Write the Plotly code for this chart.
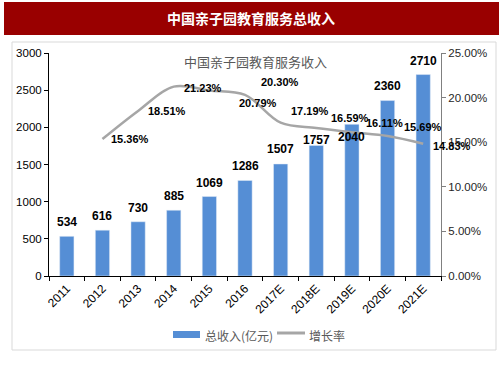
import plotly.graph_objects as go

categories = ["2011", "2012", "2013", "2014", "2015", "2016", "2017E", "2018E", "2019E", "2020E", "2021E"]
revenue = [534, 616, 730, 885, 1069, 1286, 1507, 1757, 2040, 2360, 2710]
growth_cats = categories[1:]
growth = [0.1536, 0.1851, 0.2123, 0.2079, 0.2030, 0.1719, 0.1659, 0.1611, 0.1569, 0.1483]
growth_labels = ["15.36%", "18.51%", "21.23%", "20.79%", "20.30%", "17.19%", "16.59%", "16.11%", "15.69%", "14.83%"]

# label offsets (px) - styling only
bar_label_yshift = [14, 14, 14, 14, 14, 14, 15, 5, -13, 15, 14]
growth_label_xshift = [28, 29, 29, 49, 35, 29, 34, 33, 35, 29]
growth_label_yshift = [0, 0, -1, -12, 13, 12, 10, 9, 9, -2]

BAR_COLOR = "#558ED5"
LINE_COLOR = "#A6A6A6"
FONT = "Liberation Sans, Arial, sans-serif"
CJK = "Noto Sans CJK SC, sans-serif"

W, H = 503, 378
L, R, T, B = 49, 62, 53, 102
PW, PH = W - L - R, H - T - B

def px(x):
    return (x - L) / PW

def py(y):
    return (H - B - y) / PH

idx = list(range(len(categories)))
gidx = idx[1:]

fig = go.Figure()
fig.add_trace(go.Bar(x=idx, y=revenue, marker_color=BAR_COLOR, width=0.4,
                     name="总收入(亿元)", yaxis="y"))
fig.add_trace(go.Scatter(x=gidx, y=growth, mode="lines", yaxis="y2",
                         line=dict(color=LINE_COLOR, width=2.5, shape="spline", smoothing=1.0),
                         name="增长率"))

annotations = []
for i, v, ys in zip(idx, revenue, bar_label_yshift):
    annotations.append(dict(x=i, y=v, xref="x", yref="y", text=str(v), showarrow=False,
                            xanchor="center", yanchor="middle",
                            yshift=ys, font=dict(family=FONT, size=12, color="#000000", weight="bold")))
for i, v, t, xs, ys in zip(gidx, growth, growth_labels, growth_label_xshift, growth_label_yshift):
    annotations.append(dict(x=i, y=v, xref="x", yref="y2", text=t, showarrow=False,
                            xanchor="center", yanchor="middle",
                            xshift=xs, yshift=ys, font=dict(family=FONT, size=11, color="#000000", weight="bold")))

# titles
annotations.append(dict(x=px(251), y=py(18), xref="paper", yref="paper", text="中国亲子园教育服务总收入",
                        xanchor="center", yanchor="middle",
                        showarrow=False, font=dict(family=CJK, size=14, color="#FFFFFF", weight="bold")))
annotations.append(dict(x=px(255), y=py(61), xref="paper", yref="paper", text="中国亲子园教育服务收入",
                        xanchor="center", yanchor="middle",
                        showarrow=False, font=dict(family=CJK, size=13, color="#595959")))
# legend
annotations.append(dict(x=px(203), y=py(335), xref="paper", yref="paper", text="总收入(亿元)",
                        xanchor="left", yanchor="middle",
                        showarrow=False, font=dict(family=CJK, size=12, color="#595959")))
annotations.append(dict(x=px(307), y=py(335), xref="paper", yref="paper", text="增长率",
                        xanchor="left", yanchor="middle",
                        showarrow=False, font=dict(family=CJK, size=12, color="#595959")))

shapes = [
    dict(type="rect", xref="paper", yref="paper", x0=px(12), x1=px(496), y0=py(42), y1=py(350),
         line=dict(color="#D9D9D9", width=1), fillcolor="rgba(0,0,0,0)", layer="below"),
    dict(type="rect", xref="paper", yref="paper", x0=px(4), x1=px(499), y0=py(2), y1=py(35),
         line=dict(width=0), fillcolor="#990000"),
    dict(type="rect", xref="paper", yref="paper", x0=px(173), x1=px(200), y0=py(331), y1=py(338),
         line=dict(width=0), fillcolor=BAR_COLOR),
    dict(type="line", xref="paper", yref="paper", x0=px(277), x1=px(305), y0=py(333), y1=py(333),
         line=dict(color=LINE_COLOR, width=3)),
]

fig.update_layout(
    width=W, height=H,
    margin=dict(l=L, r=R, t=T, b=B, autoexpand=False),
    paper_bgcolor="white", plot_bgcolor="white",
    showlegend=False,
    annotations=annotations,
    shapes=shapes,
    xaxis=dict(type="linear", showline=True, linecolor="#000000", linewidth=1,
               tickmode="array", tickvals=idx, ticktext=categories,
               ticks="", tickangle=-45, tickfont=dict(family=FONT, size=12, color="#000000"),
               showgrid=False, zeroline=False, range=[-0.5, 10.5], automargin=False),
    xaxis2=dict(overlaying="x", range=[-0.5, 10.5], tickmode="linear", tick0=-0.5, dtick=1,
                ticks="outside", ticklen=4, tickcolor="#000000", showticklabels=False,
                showgrid=False, zeroline=False, anchor="y", side="bottom", automargin=False),
    yaxis=dict(range=[0, 3000], dtick=500, showline=True, linecolor="#000000", linewidth=1,
               ticks="outside", ticklen=4, tickcolor="#000000", showgrid=False, zeroline=False,
               tickfont=dict(family=FONT, size=11.5, color="#000000"), automargin=False),
    yaxis2=dict(range=[0, 0.25], dtick=0.05, tickformat=".2%", overlaying="y", side="right",
                showline=True, linecolor="#808080", linewidth=1, ticks="outside", ticklen=4,
                tickcolor="#808080", showgrid=False, zeroline=False,
                tickfont=dict(family=FONT, size=11.5, color="#262626"), automargin=False),
)
# invisible trace to activate boundary tick axis
fig.add_trace(go.Scatter(x=[None], y=[None], xaxis="x2", yaxis="y", showlegend=False, hoverinfo="skip"))

fig.write_html("out.html", config={"displayModeBar": False},
               post_script="document.body.style.margin='0';document.body.style.overflow='hidden';")
